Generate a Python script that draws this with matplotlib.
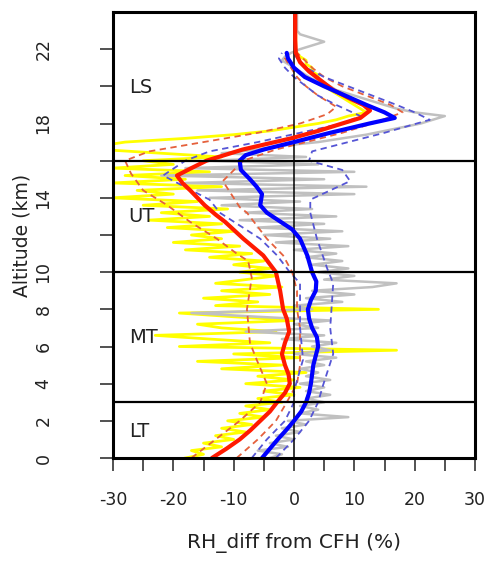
import numpy as np
import matplotlib
matplotlib.use("Agg")
import matplotlib.pyplot as plt

plt.rcParams['font.family'] = ['DejaVu Sans']

# ---------------- data ----------------
# noisy profiles sampled every 0.2 km from 0 to 24 km
noise_alt = np.linspace(0, 24, 121)
yellow_x = [-18, -15, -17, -12, -15, -10, -13, -8, -12, -7,
            -11, -5, -9, -4, -8, -2, -6, 0, -5, 1,
            -8, 0, -6, 2, -12, -2, -16, 1, -10, 17,
            -19, -4, -14, -23, -3, -12, -16, 0, -10, -19,
            14, -13, -6, -15, -4, -12, -2, -13, -8, -3,
            -9, -4, -10, -5, -14, -7, -18, -9, -20, -12,
            -17, -10, -21, -12, -24, -14, -22, -11, -25, -16,
            -30, -20, -26, -12, -30, -18, -28, -14, -30, -20,
            -25, -12, -22, -32, -32, -28, -18, -10, -4, 0,
            4, 7, 9, 12, 11, 10, 9, 8, 7, 6,
            5, 4.5, 4, 4, 3, 3, 2, 2, 1, 0.5,
            0.3, 0.3, 0.3, 0.3, 0.3, 0.3, 0.3, 0.3, 0.3, 0.3, 0.3]
gray_x = [-4, -2, -6, -1, -4, 0, -3, 1, -2, 2,
          -1, 9, 1, 4, 1, 5, 2, 6, 2, 5,
          1, 6, 2, 4, 1, 5, 2, 7, 0, 6,
          3, 7, -2, 5, -8, 4, 0, 6, -6, -17,
          3, 0, 8, 2, 10, 3, 13, 17, 5, 10,
          4, 9, 3, 8, 2, 7, 0, 9, -3, 6,
          -5, 8, -6, 5, -9, 7, -8, 3, -12, 1,
          -14, 10, -16, 12, -18, 5, -22, 10, -18, 4,
          -14, 2, -12, -6, -2, 4, 8, 12, 15, 18,
          21, 23, 25, 20, 17, 15, 13, 11, 9, 7,
          6, 5, 3, 2, 1, 0, -1, -2, -1.5, -0.5,
          1, 3, 5, 3, 1, 0.5, 0.5, 0.5, 0.5, 0.5, 0.5]

# smoothed mean profiles
red_alt = [0, 0.5, 1, 1.5, 2, 2.5, 3, 3.5, 4, 4.5, 5, 5.6, 6.2, 6.8, 7.5, 8, 9, 10,
           10.9, 11.8, 12.7, 13.1, 13.6, 14.0, 14.4, 14.8, 15.2, 15.6, 16.0, 16.3,
           16.6, 16.9, 17.2, 17.6, 18.0, 18.3, 18.7, 19.0, 19.3, 19.8, 20.3, 20.8,
           21.3, 21.8, 22.5, 24]
red_x = [-13.6, -11.2, -9.0, -7.2, -5.6, -4.0, -2.8, -1.5, -0.7, -0.9, -1.5, -2.0,
         -1.5, -0.8, -1.2, -1.8, -2.3, -3.0, -5.1, -8.4, -11.4, -13.0, -14.8, -16.0,
         -17.2, -18.5, -19.4, -17.0, -14.5, -11.5, -8.5, -4.5, -0.5, 4.0, 8.0, 11.0,
         12.6, 11.5, 9.5, 6.5, 4.5, 2.5, 1.0, 0.3, 0.2, 0.2]

blue_alt = [0, 0.5, 1, 1.5, 2, 2.5, 3, 3.5, 4, 5, 6, 6.5, 7, 7.5, 8, 8.5, 9, 9.5,
            10, 10.9, 11.8, 12.3, 13.2, 13.6, 14.2, 14.6, 15.0, 15.5, 16.0, 16.3,
            16.6, 17.0, 17.5, 18.0, 18.3, 18.6, 19.0, 19.5, 20.0, 20.5, 21.0, 21.5,
            21.8]
blue_x = [-5.3, -4.0, -2.7, -1.3, 0.0, 1.2, 2.0, 2.5, 2.8, 3.2, 4.0, 3.8, 3.0, 2.5,
          2.3, 2.8, 3.6, 3.7, 3.0, 2.2, 1.0, -0.3, -4.5, -5.6, -5.3, -6.2, -7.3,
          -8.8, -9.0, -8.0, -5.0, 0.0, 6.0, 12.5, 16.7, 15.0, 12.0, 8.5, 5.0, 1.8,
          0.0, -1.0, -1.2]

# spread (dashed) profiles
red_lo_alt = [0, 1, 2, 3, 4, 5.3, 6.2, 8, 9.7, 10.6, 11.0, 11.8, 12.7, 13.6, 14.4,
              15.3, 16.0, 16.5, 17.0, 17.5, 18.0, 18.5, 18.9, 19.5, 20.0, 20.5, 21.0,
              21.5, 21.8]
red_lo_x = [-17, -13, -9, -5.6, -4.5, -6.2, -7.3, -7.8, -7.0, -7.6, -9.5, -12.8,
            -17.2, -21, -25, -27, -28, -24, -15, -6, 1, 5.5, 7, 4, 2, 0.5, -0.5,
            -1.5, -1.5]
red_hi_alt = [0, 1, 2, 3, 4, 5, 6, 7, 8, 9, 10, 10.9, 11.8, 13.2, 13.5, 14.9, 16.0,
              16.6, 17.0, 17.5, 18.0, 18.6, 19.0, 19.5, 20.0, 20.5, 21.0, 21.5, 21.8]
red_hi_x = [-9.5, -6, -3, -1.2, 0.5, 1, 1, 1, 0.5, 0.5, -0.3, -1.8, -4.5, -7.8, -9,
            -11.8, -8.4, -3, 2, 8, 13, 18, 16, 12, 8, 5, 3, 1.5, 0.5]
blue_lo_alt = [0, 1, 2, 3, 3.6, 5.3, 7, 9.4, 10, 10.9, 11.8, 13.2, 13.9, 15.2, 16.0,
               16.5, 17.0, 17.5, 18.0, 18.4, 19.0, 19.5, 20.0, 20.5, 21.0, 21.5, 21.8]
blue_lo_x = [-7, -4.5, -1.5, 0, 0, 1.5, 1, 1, -0.7, -2.8, -5.6, -12.3, -14, -21.7,
             -18, -14, -6, 1, 8, 11, 7, 4, 2, 0, -1.5, -2.5, -2]
blue_hi_alt = [0, 1, 2, 3, 3.9, 5.6, 7, 9.4, 10.2, 11.8, 13.2, 13.9, 14.9, 15.5, 16.0,
               16.5, 17.0, 17.5, 18.2, 18.6, 19.0, 19.5, 20.0, 20.5, 21.0, 21.5, 21.8]
blue_hi_x = [-3, 0, 2.5, 4, 4.8, 6.5, 6, 6.5, 5.5, 3.8, 2.7, 2.7, 9.3, 8, 2.5, 3, 9,
             15, 22.5, 20, 17, 13, 9, 5, 2, 0.5, 0]

layer_bounds = [3, 10, 16]
layer_names = ["LS", "UT", "MT", "LT"]
layer_label_alt = [19.95, 13.0, 6.5, 1.45]

xticks_major = [-30, -20, -10, 0, 10, 20, 30]
xticks_all = [-30, -25, -20, -15, -10, -5, 0, 5, 10, 15, 20, 25, 30]
yticks_all = [0, 2, 4, 6, 8, 10, 12, 14, 16, 18, 20, 22]
ytick_labels = ["0", "2", "4", "6", "8", "10", "", "14", "", "18", "", "22"]

# ---------------- figure ----------------
W, H = 491, 562
fig = plt.figure(figsize=(W / 100, H / 100), dpi=100)
ax = fig.add_axes([113 / W, 1 - 458 / H, 362 / W, 446 / H])

ax.plot(yellow_x, noise_alt, color="#ffff00", lw=2.0, zorder=1)
ax.plot(gray_x, noise_alt, color="#c0c0c0", lw=1.8, zorder=2)

dash = (3.5, 2.5)
ax.plot(red_lo_x, red_lo_alt, color="#e5603c", lw=1.3, dashes=dash, zorder=3)
ax.plot(red_hi_x, red_hi_alt, color="#e5603c", lw=1.3, dashes=dash, zorder=3)
ax.plot(blue_lo_x, blue_lo_alt, color="#5555d5", lw=1.3, dashes=dash, zorder=3)
ax.plot(blue_hi_x, blue_hi_alt, color="#5555d5", lw=1.3, dashes=dash, zorder=3)

ax.plot(red_x, red_alt, color="#ff1a00", lw=3.0, zorder=5, solid_capstyle="round")
ax.plot(blue_x, blue_alt, color="#0000ff", lw=3.0, zorder=5, solid_capstyle="round")

for b in layer_bounds:
    ax.axhline(b, color="black", lw=1.6, zorder=6)
ax.axvline(0, color="black", lw=1.1, zorder=4)

for name, alt in zip(layer_names, layer_label_alt):
    ax.text(-27.4, alt, name, fontsize=14, ha="left", va="center", color="#222222",
            zorder=7)

ax.set_xlim(-30, 30)
ax.set_ylim(0, 24)
ax.set_xticks(xticks_all)
ax.set_xticklabels([str(v) if v in xticks_major else "" for v in xticks_all])
ax.set_yticks(yticks_all)
ax.set_yticklabels(ytick_labels, rotation=90, va="center")

ax.tick_params(axis="both", direction="out", length=9.5, width=1.2, color="#333333",
               labelsize=12.5, labelcolor="#222222")
ax.tick_params(axis="x", pad=14)
ax.tick_params(axis="y", pad=34)

for s in ax.spines.values():
    s.set_linewidth(2.2)
    s.set_zorder(8)

ax.set_xlabel("RH_diff from CFH (%)", fontsize=14.5, color="#222222")
ax.set_ylabel("Altitude (km)", fontsize=13.5, color="#222222")
ax.xaxis.set_label_coords(0.5, -0.168)
ax.yaxis.set_label_coords(-0.224, 0.5)

fig.savefig("out.png", dpi=100)
